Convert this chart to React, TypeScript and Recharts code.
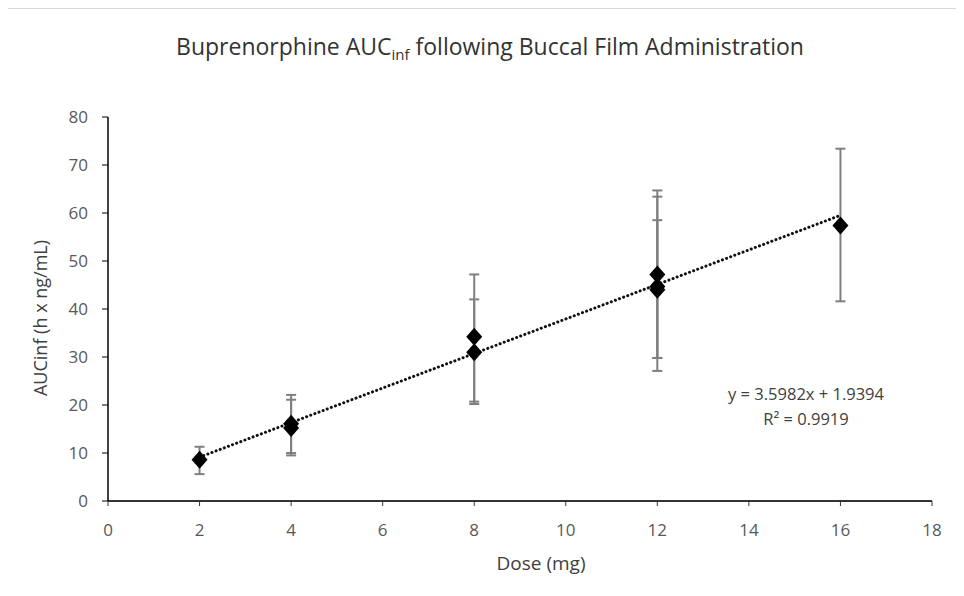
import React from "react";
import { ScatterChart, Scatter, XAxis, YAxis, ErrorBar } from "recharts";

// dose groups (mg) and AUCinf means with error bar ends
const doses = [2, 4, 4, 8, 8, 12, 12, 12, 16];
const aucMeans = [8.6, 16.1, 15.2, 34.2, 31.0, 47.2, 44.7, 44.0, 57.4];
const aucUpper = [11.3, 22.1, 21.1, 47.2, 42.0, 64.7, 63.4, 58.5, 73.4];
const aucLower = [5.6, 10.0, 9.5, 20.7, 20.2, 29.8, 27.1, 29.8, 41.6];

const xTicks = [0, 2, 4, 6, 8, 10, 12, 14, 16, 18];
const yTicks = [0, 10, 20, 30, 40, 50, 60, 70, 80];

// linear trendline as printed on the chart
const trendSlope = 3.5982;
const trendIntercept = 1.9394;
const trendRange = [2, 16];

const points = doses.map((d, i) => ({
  dose: d,
  auc: aucMeans[i],
  err: [aucMeans[i] - aucLower[i], aucUpper[i] - aucMeans[i]],
}));

const trend = trendRange.map((d) => ({ dose: d, auc: trendSlope * d + trendIntercept }));

const FONT = "'Open Sans', 'Liberation Sans', Arial, sans-serif";
const tickStyle = { fill: "#595959", fontSize: 17, fontFamily: FONT };

function Diamond(props: any) {
  const { cx, cy } = props;
  if (cx == null || cy == null) return <g />;
  return (
    <polygon
      points={`${cx},${cy - 9} ${cx + 8},${cy} ${cx},${cy + 9} ${cx - 8},${cy}`}
      fill="#000"
    />
  );
}

function NoDot() {
  return <g />;
}

export default function App() {
  return (
    <div
      style={{
        position: "relative",
        width: 964,
        height: 596,
        margin: -8,
        background: "#fff",
        overflow: "hidden",
        fontFamily: FONT,
      }}
    >
      <ScatterChart
        width={964}
        height={596}
        margin={{ top: 117, right: 32, bottom: 65, left: 58 }}
      >
        <XAxis
          type="number"
          dataKey="dose"
          domain={[0, 18]}
          ticks={xTicks}
          allowDataOverflow
          height={30}
          tick={tickStyle}
          tickSize={5}
          tickMargin={18}
          axisLine={{ stroke: "#333", strokeWidth: 2 }}
          tickLine={{ stroke: "#333" }}
        />
        <YAxis
          type="number"
          dataKey="auc"
          domain={[0, 80]}
          ticks={yTicks}
          allowDataOverflow
          width={50}
          tick={tickStyle}
          tickSize={6}
          tickMargin={14}
          axisLine={{ stroke: "#000", strokeWidth: 1.5 }}
          tickLine={{ stroke: "#000" }}
        />
        <Scatter
          data={trend}
          shape={NoDot}
          line={{ stroke: "#111", strokeWidth: 3, strokeDasharray: "0.1 4.3", strokeLinecap: "round" }}
          isAnimationActive={false}
        />
        <Scatter data={points} shape={Diamond} isAnimationActive={false}>
          <ErrorBar dataKey="err" direction="y" width={5} stroke="#7f7f7f" strokeWidth={2} />
        </Scatter>
      </ScatterChart>
      {/* chart-area frame, only the top and left edges are in view */}
      <div style={{ position: "absolute", left: 6, top: 7, width: 2, height: 600, background: "#d9d9d9" }} />
      <div style={{ position: "absolute", left: 6, top: 7, width: 1000, height: 2, background: "#d9d9d9" }} />
      <div
        style={{
          position: "absolute",
          left: 0,
          top: 30,
          width: 980,
          textAlign: "center",
          fontSize: 23,
          lineHeight: "32px",
          color: "#333",
          whiteSpace: "nowrap",
        }}
      >
        Buprenorphine AUC<sub style={{ fontSize: 15, verticalAlign: -5, lineHeight: 0 }}>inf</sub> following Buccal Film Administration
      </div>
      <div
        style={{
          position: "absolute",
          left: 40,
          top: 318,
          transform: "translate(-50%, -50%) rotate(-90deg)",
          whiteSpace: "nowrap",
          fontSize: 18,
          color: "#404040",
        }}
      >
        AUCinf (h x ng/mL)
      </div>
      <div
        style={{
          position: "absolute",
          left: 541,
          top: 563,
          transform: "translate(-50%, -50%)",
          whiteSpace: "nowrap",
          fontSize: 19,
          color: "#404040",
        }}
      >
        Dose (mg)
      </div>
      <div
        style={{
          position: "absolute",
          left: 806,
          top: 406,
          transform: "translate(-50%, -50%)",
          textAlign: "center",
          fontSize: 16.5,
          lineHeight: "25px",
          color: "#404040",
          whiteSpace: "nowrap",
        }}
      >
        y = 3.5982x + 1.9394
        <br />
        R² = 0.9919
      </div>
    </div>
  );
}
